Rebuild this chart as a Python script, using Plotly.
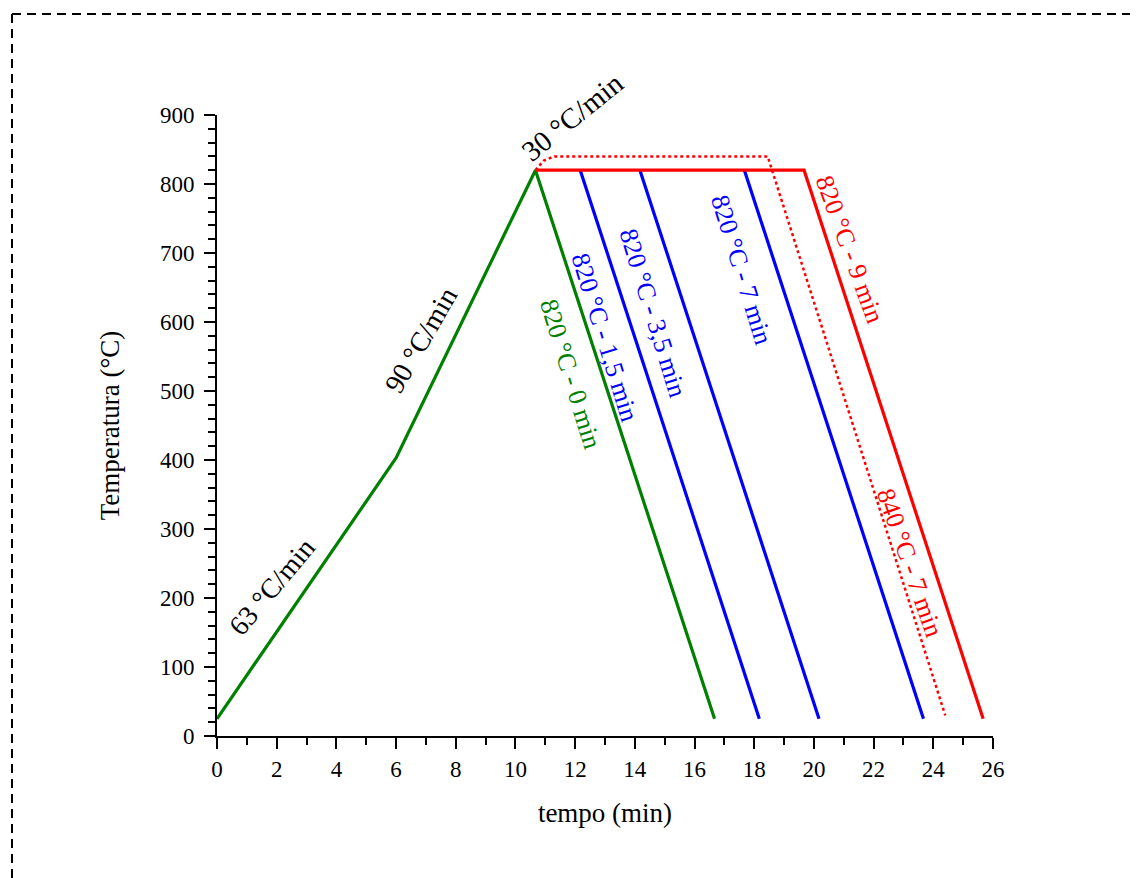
import plotly.graph_objects as go

# ---- data (time in min, temperature in °C) ----
green_t = [0, 6.0, 10.67, 16.67]
green_T = [25, 403, 820, 25]

blue1_t = [12.17, 18.17]
blue1_T = [820, 25]
blue2_t = [14.17, 20.17]
blue2_T = [820, 25]
blue3_t = [17.67, 23.67]
blue3_T = [820, 25]

red_t = [10.67, 19.67, 25.67]
red_T = [820, 820, 25]

reddot_t = [10.67, 10.95, 11.3, 18.45, 24.4]
reddot_T = [820, 834, 840, 840, 30]

x_ticks = list(range(0, 27, 2))
y_ticks = list(range(0, 901, 100))

GREEN = "#008000"
BLUE = "#0000FF"
RED = "#FF0000"
FONT = "Liberation Serif"

fig = go.Figure()
lw = 3.2
fig.add_trace(go.Scatter(x=green_t, y=green_T, mode="lines", line=dict(color=GREEN, width=lw)))
for bt, bT in [(blue1_t, blue1_T), (blue2_t, blue2_T), (blue3_t, blue3_T)]:
    fig.add_trace(go.Scatter(x=bt, y=bT, mode="lines", line=dict(color=BLUE, width=lw)))
fig.add_trace(go.Scatter(x=reddot_t, y=reddot_T, mode="lines", line=dict(color=RED, width=2.5, dash="dot")))
fig.add_trace(go.Scatter(x=red_t, y=red_T, mode="lines", line=dict(color=RED, width=lw)))

# annotations: (text, x, y, angle, color, size)
labels = [
    ("63 °C/min", 1.85, 216, -50, "black", 28),
    ("90 °C/min", 6.85, 574, -60, "black", 28),
    ("30 °C/min", 11.9, 897, -39, "black", 29),
    ("820 °C - 0 min", 11.83, 525, 73, GREEN, 26),
    ("820 °C - 1,5 min", 13.0, 578, 73, BLUE, 26),
    ("820 °C - 3,5 min", 14.62, 613, 73, BLUE, 26),
    ("820 °C - 7 min", 17.59, 675, 73, BLUE, 26),
    ("820 °C - 9 min", 21.2, 705, 70, RED, 26),
    ("840 °C - 7 min", 23.2, 251, 71, RED, 26),
]
for txt, x, y, ang, col, sz in labels:
    fig.add_annotation(x=x, y=y, text=txt, textangle=ang, showarrow=False,
                       font=dict(family=FONT, size=sz, color=col),
                       xanchor="center", yanchor="middle")

# page has an 8px body margin; figure coordinates = page coordinates - 8
L, T, PW, PH = 209, 107, 776, 621
W, H = 1138, 878
px = lambda p: (p - 8 - L) / PW
py = lambda p: (T + PH - (p - 8)) / PH
frame = dict(color="black", width=2, dash="9px,6px")
fig.add_shape(type="line", xref="paper", yref="paper", x0=px(12), y0=py(14), x1=px(1150), y1=py(14), line=frame)
fig.add_shape(type="line", xref="paper", yref="paper", x0=px(12), y0=py(14), x1=px(12), y1=py(890), line=frame)

axis_common = dict(
    showline=True, linecolor="black", linewidth=2,
    showgrid=False, zeroline=False,
    ticks="outside", ticklen=11, tickwidth=2, tickcolor="black",
    tickfont=dict(family=FONT, size=23, color="black"),
)
fig.update_xaxes(range=[0, 26], tickvals=x_ticks, ticktext=[str(v) for v in x_ticks],
                 minor=dict(dtick=1, ticks="outside", ticklen=7, tickwidth=2, tickcolor="black"),
                 title=dict(text="tempo (min)", font=dict(family=FONT, size=27, color="black"), standoff=23),
                 **axis_common)
fig.update_yaxes(range=[0, 900], tickvals=y_ticks, ticktext=[str(v) for v in y_ticks],
                 ticklabelstandoff=5,
                 minor=dict(dtick=20, ticks="outside", ticklen=7, tickwidth=2, tickcolor="black"),
                 title=dict(text="Temperatura (°C)", font=dict(family=FONT, size=27, color="black"), standoff=32),
                 **axis_common)

fig.update_layout(
    width=W, height=H, autosize=False,
    margin=dict(l=L, r=W - L - PW, t=T, b=H - T - PH),
    plot_bgcolor="white", paper_bgcolor="white",
    showlegend=False,
)
fig.write_html("out.html")
